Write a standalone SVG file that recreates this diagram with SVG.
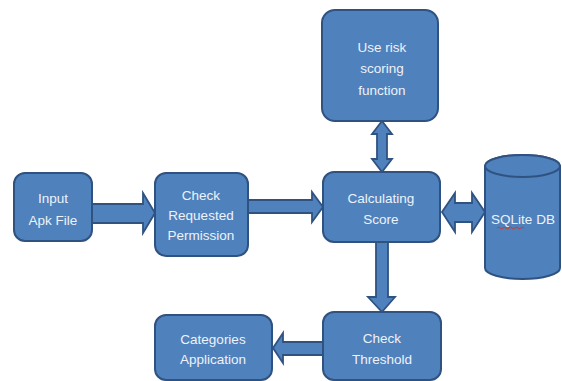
<svg xmlns="http://www.w3.org/2000/svg" width="562" height="381" viewBox="0 0 562 381">
<style>
.box{fill:#4f81bd;stroke:#2f5281;stroke-width:2}
.arr{fill:#4f81bd;stroke:#2f5281;stroke-width:1.8;stroke-linejoin:miter}
.t{font-family:"Liberation Sans",Arial,sans-serif;font-size:13.5px;fill:#eef2f8;text-anchor:middle}
</style>
<rect width="562" height="381" fill="#ffffff"/>
<g id="connectors">
<path class="arr" d="M92,204 H143 V193 L155,213 L143,233 V223 H92 Z"/>
<path class="arr" d="M248,200 H312 V192 L323,207 L312,222 V213 H248 Z"/>
<path class="arr" d="M382,121 L392,134 H387 V159 H392 L382,172 L372,159 H377 V134 H372 Z"/>
<path class="arr" d="M442,212 L455,193 V203 H472 V193 L485,212 L472,232 V222 H455 V232 Z"/>
<path class="arr" d="M376,242 H388 V297 H395 L382,312 L368,297 H376 Z"/>
<path class="arr" d="M323,342 H283 V333 L273,348 L283,363 V355 H323 Z"/>
</g>
<g id="input">
<rect class="box" x="14" y="173" width="78" height="68" rx="11"/>
<text class="t" x="53" y="203">Input</text>
<text class="t" x="53" y="225">Apk File</text>
</g>
<g id="check-permission">
<rect class="box" x="155" y="173" width="93" height="83" rx="11"/>
<text class="t" x="201" y="200">Check</text>
<text class="t" x="201" y="220">Requested</text>
<text class="t" x="201" y="240">Permission</text>
</g>
<g id="risk-function">
<rect class="box" x="322" y="10" width="116" height="111" rx="13"/>
<text class="t" x="382" y="52">Use risk</text>
<text class="t" x="382" y="73">scoring</text>
<text class="t" x="382" y="95">function</text>
</g>
<g id="calculating">
<rect class="box" x="323" y="172" width="117" height="70" rx="11"/>
<text class="t" x="381" y="203">Calculating</text>
<text class="t" x="381" y="224">Score</text>
</g>
<g id="sqlite">
<path class="box" d="M485,166 V268 A37.5,11 0 0 0 560,268 V166 A37.5,11 0 0 0 485,166 Z"/>
<ellipse class="box" cx="522.5" cy="166" rx="37.5" ry="11"/>
<text class="t" x="523" y="224">SQLite DB</text>
<path d="M497,228 q1.5,-1.5 3,0 t3,0 t3,0 t3,0 t3,0 t3,0 t3,0 t3,0 t3,0" fill="none" stroke="#c0392b" stroke-width="0.9"/>
</g>
<g id="check-threshold">
<rect class="box" x="323" y="312" width="118" height="68" rx="11"/>
<text class="t" x="382" y="343">Check</text>
<text class="t" x="382" y="364">Threshold</text>
</g>
<g id="categories">
<rect class="box" x="155" y="315" width="117" height="65" rx="11"/>
<text class="t" x="213" y="344">Categories</text>
<text class="t" x="213" y="364">Application</text>
</g>
</svg>
